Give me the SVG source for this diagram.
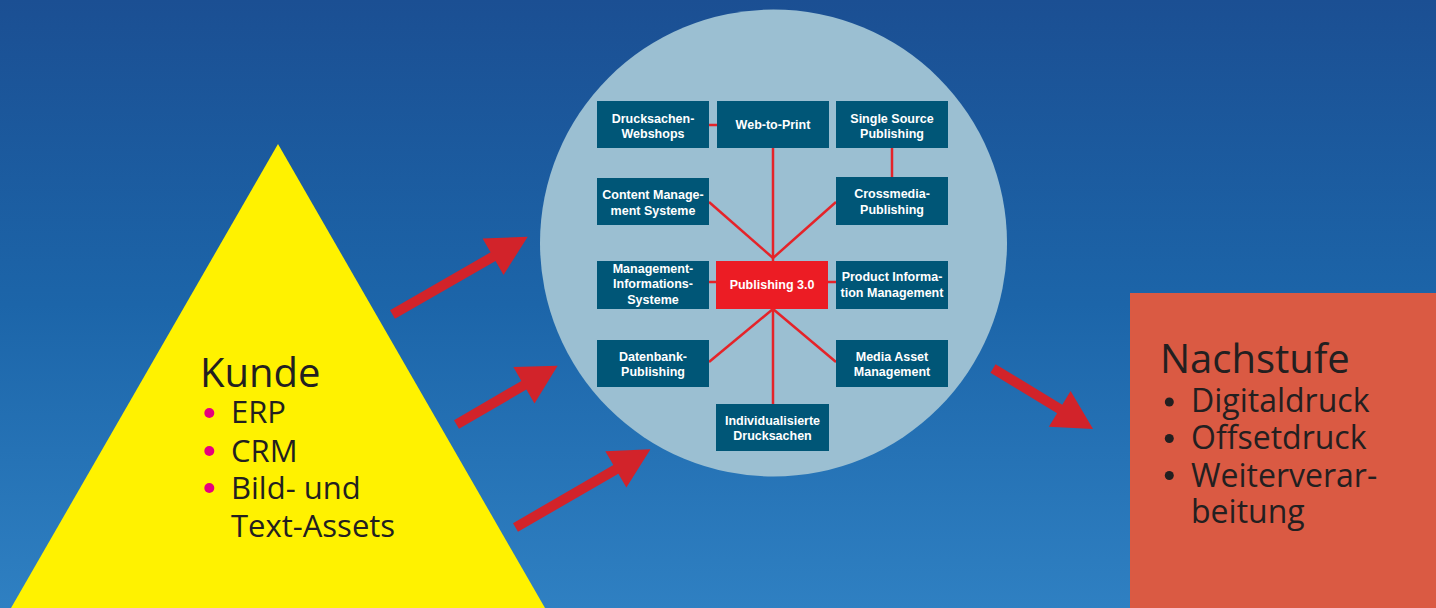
<svg xmlns="http://www.w3.org/2000/svg" width="1436" height="608" viewBox="0 0 1436 608">
  <defs>
    <linearGradient id="bg" x1="0" y1="0" x2="0" y2="1">
      <stop offset="0" stop-color="#1b4f93"/>
      <stop offset="0.5" stop-color="#1c65a9"/>
      <stop offset="1" stop-color="#2f80c2"/>
    </linearGradient>
    <path id="arrowLong" d="M0,-5 L116,-5 L116,-21 L156,0 L116,21 L116,5 L0,5 Z"/>
    <path id="arrowShort" d="M0,-5 L78,-5 L78,-21 L117,0 L78,21 L78,5 L0,5 Z"/>
  </defs>
  <style>
    .box { fill: #005677; }
    .hub { fill: #ec1c24; }
    .lbl { font-family: "Liberation Sans", Arial, sans-serif; font-weight: bold; font-size: 12.5px; fill: #ffffff; text-anchor: middle; }
    .conn { stroke: #e52329; stroke-width: 2.5; fill: none; }
    .arrow { fill: #d2232a; }
    .big { font-family: "Open Sans", "Noto Sans", sans-serif; fill: #231f20; }
    .title { font-size: 40px; }
    .item { font-size: 31px; }
    .item2 { font-size: 32px; }
  </style>

  <rect x="0" y="0" width="1436" height="608" fill="url(#bg)"/>

  <!-- Circle -->
  <circle id="circle" cx="773.5" cy="243" r="233.5" fill="#9bbfd2"/>

  <!-- Kunde triangle -->
  <g id="kunde">
    <polygon points="278,144 545,608 11,608" fill="#fff200"/>
    <text class="big title" x="200" y="387">Kunde</text>
    <circle cx="209.3" cy="413" r="5" fill="#e6007e"/>
    <circle cx="209.3" cy="451" r="5" fill="#e6007e"/>
    <circle cx="209.3" cy="488" r="5" fill="#e6007e"/>
    <text class="big item" x="231" y="423">ERP</text>
    <text class="big item" x="231" y="462">CRM</text>
    <text class="big item" x="231" y="499">Bild- und</text>
    <text class="big item" x="231" y="537">Text-Assets</text>
  </g>

  <!-- Nachstufe -->
  <g id="nachstufe">
    <rect x="1130" y="293" width="306" height="315" fill="#da5a43"/>
    <text class="big title" x="1160" y="373">Nachstufe</text>
    <circle cx="1169.3" cy="402" r="4.5" fill="#231f20"/>
    <circle cx="1169.3" cy="438.5" r="4.5" fill="#231f20"/>
    <circle cx="1169.3" cy="475.5" r="4.5" fill="#231f20"/>
    <text class="big item2" x="1191" y="412">Digitaldruck</text>
    <text class="big item2" x="1191" y="449">Offsetdruck</text>
    <text class="big item2" x="1191" y="487">Weiterverar-</text>
    <text class="big item2" x="1191" y="523">beitung</text>
  </g>

  <!-- Arrows -->
  <g id="arrows" class="arrow">
    <use href="#arrowLong" transform="translate(392.5,314.5) rotate(-29.9)"/>
    <use href="#arrowShort" transform="translate(456.5,424.5) rotate(-30.2)"/>
    <use href="#arrowLong" transform="translate(515.5,527.5) rotate(-30.1)"/>
    <use href="#arrowShort" transform="translate(993,368.5) rotate(31.2)"/>
  </g>

  <!-- Connectors -->
  <g id="connectors" class="conn">
    <line x1="709" y1="125" x2="717" y2="125"/>
    <line x1="773" y1="148" x2="773" y2="261"/>
    <line x1="892" y1="148" x2="892" y2="177"/>
    <line x1="709" y1="202" x2="773" y2="258"/>
    <line x1="836" y1="202" x2="773" y2="258"/>
    <line x1="709" y1="282" x2="716" y2="282"/>
    <line x1="828" y1="282" x2="836" y2="282"/>
    <line x1="773" y1="309" x2="709" y2="362"/>
    <line x1="773" y1="309" x2="836" y2="362"/>
    <line x1="773" y1="309" x2="773" y2="404"/>
  </g>

  <!-- Nodes -->
  <g id="n-webshops">
    <rect class="box" x="597" y="101" width="112" height="47"/>
    <text class="lbl" x="653" y="123">Drucksachen-</text>
    <text class="lbl" x="653" y="138">Webshops</text>
  </g>
  <g id="n-webtoprint">
    <rect class="box" x="717" y="101" width="112" height="47"/>
    <text class="lbl" x="773" y="129">Web-to-Print</text>
  </g>
  <g id="n-singlesource">
    <rect class="box" x="836" y="101" width="112" height="47"/>
    <text class="lbl" x="892" y="123">Single Source</text>
    <text class="lbl" x="892" y="138">Publishing</text>
  </g>
  <g id="n-cms">
    <rect class="box" x="597" y="178" width="112" height="47"/>
    <text class="lbl" x="653" y="199">Content Manage-</text>
    <text class="lbl" x="653" y="215">ment Systeme</text>
  </g>
  <g id="n-crossmedia">
    <rect class="box" x="836" y="177" width="112" height="48"/>
    <text class="lbl" x="892" y="198">Crossmedia-</text>
    <text class="lbl" x="892" y="214">Publishing</text>
  </g>
  <g id="n-mis">
    <rect class="box" x="597" y="261" width="112" height="48"/>
    <text class="lbl" x="653" y="273">Management-</text>
    <text class="lbl" x="653" y="288">Informations-</text>
    <text class="lbl" x="653" y="304">Systeme</text>
  </g>
  <g id="n-publishing">
    <rect class="hub" x="716" y="261" width="112" height="48"/>
    <text class="lbl" x="772" y="289">Publishing 3.0</text>
  </g>
  <g id="n-pim">
    <rect class="box" x="836" y="261" width="112" height="48"/>
    <text class="lbl" x="892" y="281">Product Informa-</text>
    <text class="lbl" x="892" y="297">tion Management</text>
  </g>
  <g id="n-datenbank">
    <rect class="box" x="597" y="340" width="112" height="47"/>
    <text class="lbl" x="653" y="361">Datenbank-</text>
    <text class="lbl" x="653" y="376">Publishing</text>
  </g>
  <g id="n-mam">
    <rect class="box" x="836" y="340" width="112" height="47"/>
    <text class="lbl" x="892" y="361">Media Asset</text>
    <text class="lbl" x="892" y="376">Management</text>
  </g>
  <g id="n-individual">
    <rect class="box" x="716" y="404" width="113" height="47"/>
    <text class="lbl" x="772.5" y="425">Individualisierte</text>
    <text class="lbl" x="772.5" y="440">Drucksachen</text>
  </g>
</svg>
